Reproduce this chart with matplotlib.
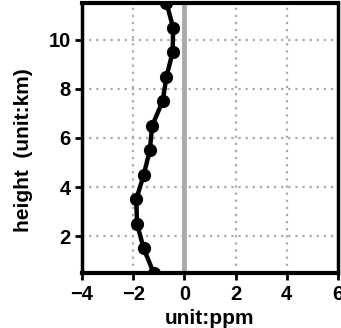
import matplotlib
matplotlib.use("Agg")
import matplotlib.pyplot as plt

# Vertical profile of the concentration anomaly
heights = [0.5, 1.5, 2.5, 3.5, 4.5, 5.5, 6.5, 7.5, 8.5, 9.5, 10.5, 11.5]
values = [-1.2, -1.59, -1.85, -1.88, -1.59, -1.35, -1.26, -0.85, -0.70, -0.46, -0.44, -0.70]
xticks = [-4, -2, 0, 2, 4, 6]
yticks = [2, 4, 6, 8, 10]

plt.rcParams['font.family'] = ['Liberation Sans', 'DejaVu Sans']
plt.rcParams['font.weight'] = 'bold'

fig = plt.figure(figsize=(3.41, 3.28), dpi=100)
ax = fig.add_axes([82 / 341, 1 - 273 / 328, (338 - 82) / 341, (273 - 3) / 328])

ax.set_xlim(-4, 6)
ax.set_ylim(0.5, 11.5)
ax.set_xticks(xticks)
ax.set_yticks(yticks)

for x in xticks:
    ax.axvline(x, color='#aaaaaa', lw=1.6, ls=(0, (1, 2.2)), zorder=1)
for y in yticks:
    ax.axhline(y, color='#aaaaaa', lw=1.6, ls=(0, (1, 2.2)), zorder=1)

ax.axvline(0, color='#aaaaaa', lw=3.5, zorder=2)
ax.plot(values, heights, color='black', lw=3.2, marker='o', ms=8.5, zorder=3)

for side in ['top', 'bottom']:
    ax.spines[side].set_linewidth(3)
for side in ['left', 'right']:
    ax.spines[side].set_linewidth(2.5)

ax.tick_params(axis='both', direction='out', length=5, width=2, labelsize=14.5)
ax.tick_params(axis='x', pad=4)
ax.tick_params(axis='y', pad=3)
ax.set_xticklabels([str(t).replace('-', '\u2212') for t in xticks], fontweight='bold')
ax.set_yticklabels([str(t) for t in yticks], fontweight='bold')
ax.set_xlabel('unit:ppm', fontsize=15, fontweight='bold', labelpad=3)
ax.set_ylabel('height  (unit:km)', fontsize=15, fontweight='bold')
ax.yaxis.set_label_coords(-0.19, 0.455)

fig.savefig('out.png', dpi=100)
